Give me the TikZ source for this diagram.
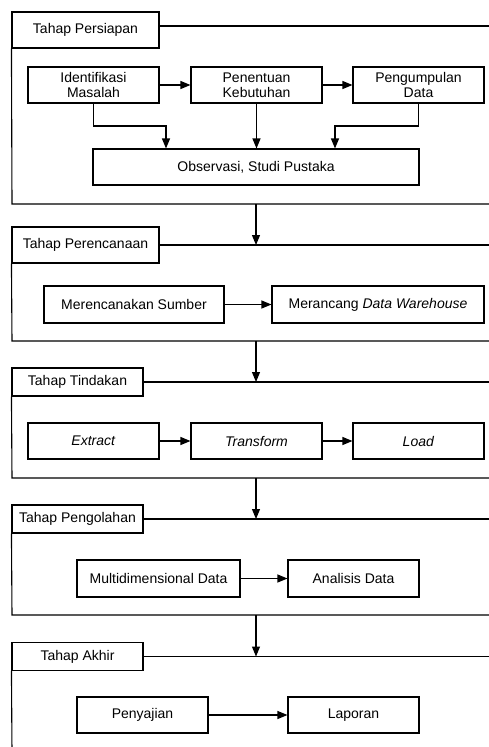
\documentclass[tikz,border=0pt]{standalone}
\usepackage{fontspec}
\setmainfont{Liberation Sans}
\usetikzlibrary{arrows.meta}
\begin{document}
\begin{tikzpicture}[x=1pt,y=-1pt,line width=1.1pt,
  box/.style={draw,inner sep=0pt,align=center,font=\fontsize{14}{15.5}\selectfont,minimum width=131pt,minimum height=36pt},
  arr/.style={-{Triangle[length=10pt,width=8pt]}},
  frame/.style={line width=1.1pt}]
\useasboundingbox (0,0) rectangle (488,747);
% ---------- Section 1
\node[box,minimum width=147pt] (t1) at (85.5,30) {Tahap Persiapan};
\node[box] (id) at (93.5,85) {Identifikasi\\Masalah};
\node[box] (pen) at (256.5,85) {Penentuan\\Kebutuhan};
\node[box] (peng) at (418.5,85) {Pengumpulan\\Data};
\node[box,minimum width=326pt] (obs) at (256,167) {Observasi, Studi Pustaka};
\coordinate (s1tr) at (495,26);
\coordinate (s1bl) at (12,204);
\coordinate (s1br) at (495,204);
\draw[frame] (t1.east |- s1tr) -- (s1tr);
\draw[frame] (t1.south west) -- (s1bl) -- (s1br);
\draw[arr] (id) -- (pen);
\draw[arr] (pen) -- (peng);
\coordinate (c1) at (166,126);
\coordinate (c2) at (335,126);
\draw[arr] (id.south) |- (c1) -- (c1 |- obs.north);
\draw[arr] (pen.south) -- (pen.south |- obs.north);
\draw[arr] (peng.south) |- (c2) -- (c2 |- obs.north);
% ---------- Section 2
\node[box,minimum width=147pt] (t2) at (85.5,245) {Tahap Perencanaan};
\node[box,minimum width=180pt,minimum height=37pt] (mer) at (134,304.5) {Merencanakan Sumber};
\node[box,minimum width=212pt,minimum height=37pt] (mera) at (378,304.5) {Merancang \textit{Data Warehouse}};
\coordinate (s2tr) at (495,245);
\coordinate (s2bl) at (12,341);
\coordinate (s2br) at (495,341);
\draw[frame] (t2.east) -- (s2tr);
\draw[frame] (t2.south west) -- (s2bl) -- (s2br);
\draw[arr] (mer) -- (mera);
\coordinate (a1s) at (256,204);
\coordinate (a1e) at (256,245);
\draw[arr] (a1s) -- (a1e);
% ---------- Section 3
\node[box,minimum height=28pt] (t3) at (77.5,382) {Tahap Tindakan};
\node[box] (ext) at (93.5,441) {\textit{Extract}};
\node[box] (tra) at (256.5,441) {\textit{Transform}};
\node[box] (loa) at (418.5,441) {\textit{Load}};
\coordinate (s3tr) at (495,382);
\coordinate (s3bl) at (12,478);
\coordinate (s3br) at (495,478);
\draw[frame] (t3.east) -- (s3tr);
\draw[frame] (t3.south west) -- (s3bl) -- (s3br);
\draw[arr] (ext) -- (tra);
\draw[arr] (tra) -- (loa);
\coordinate (a2s) at (256,341);
\coordinate (a2e) at (256,382);
\draw[arr] (a2s) -- (a2e);
% ---------- Section 4
\node[box,minimum height=28pt] (t4) at (77.5,519) {Tahap Pengolahan};
\node[box,minimum width=163pt,minimum height=37pt] (mul) at (158.5,578.5) {Multidimensional Data};
\node[box,minimum height=37pt] (ana) at (353.5,578.5) {Analisis Data};
\coordinate (s4tr) at (495,519);
\coordinate (s4bl) at (12,615);
\coordinate (s4br) at (495,615);
\draw[frame] (t4.east) -- (s4tr);
\draw[frame] (t4.south west) -- (s4bl) -- (s4br);
\draw[arr] (mul) -- (ana);
\coordinate (a3s) at (256,478);
\coordinate (a3e) at (256,519);
\draw[arr] (a3s) -- (a3e);
% ---------- Section 5
\node[box,minimum height=28pt] (t5) at (77.5,656.5) {Tahap Akhir};
\node[box] (pny) at (142.5,715) {Penyajian};
\node[box] (lap) at (353.5,715) {Laporan};
\coordinate (s5tr) at (495,656.5);
\coordinate (s5bl) at (12,752);
\draw[frame] (t5.east) -- (s5tr);
\draw[frame] (t5.south west) -- (s5bl);
\draw[arr] (pny) -- (lap);
\coordinate (a4s) at (256,615);
\coordinate (a4e) at (256,656.5);
\draw[arr] (a4s) -- (a4e);
\end{tikzpicture}
\end{document}
